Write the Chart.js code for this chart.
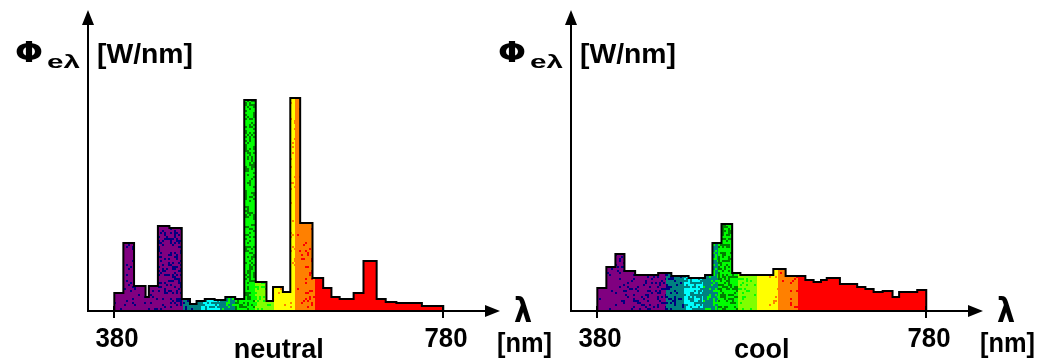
<!DOCTYPE html>
<html><head><meta charset="utf-8">
<script src="https://cdn.jsdelivr.net/npm/chart.js@4.4.1/dist/chart.umd.min.js"></script>
<style>
html,body{margin:0;padding:0;background:#fff;width:1043px;height:364px;overflow:hidden;position:relative}
canvas{position:absolute;top:0}
</style></head><body>
<canvas id="c1" width="560" height="364" style="left:0px"></canvas>
<canvas id="c2" width="563" height="364" style="left:480px"></canvas>
<script>
// ---- data ----
const tickLabels = [380, 780];
const chartTitles = ['neutral', 'cool'];
const yTitleMain = 'Φ';
const yTitleSub = 'eλ';
const yUnit = '[W/nm]';
const xTitle = 'λ';
const xUnit = '[nm]';

// wavelength bin edges (nm) and spectral power per bin (relative units)
const neutralEdges = [380, 391, 404, 418, 422, 433, 447, 462, 472, 480, 490, 502, 515, 527, 538, 552, 565, 573, 585, 594, 606, 621, 634, 644, 654, 671, 683, 699, 710, 723, 754, 780];
const neutralValues = [18, 68, 25, 14, 25, 85, 83, 12, 7, 10, 12, 11, 14, 12, 211, 29, 10, 24, 19, 213, 88, 33, 23, 14, 12, 18, 50, 12, 9, 8, 5];

const coolEdges = [380, 391, 402, 413, 426, 454, 470, 491, 511, 520, 531, 544, 554, 594, 609, 633, 643, 652, 659, 675, 696, 706, 716, 727, 739, 747, 769, 780];
const coolValues = [23, 44, 57, 40, 36, 38, 35, 33, 36, 68, 87, 38, 36, 42, 35, 31, 29, 31, 33, 27, 24, 22, 19, 20, 14, 19, 21];

// spectral colour bands (nm)
const bandStarts = [380, 463, 485, 508, 527, 551, 574, 600, 624];
const bandEnd = 780;

// ---- styles ----
const bandStyles = [
  {base:'#800080', dot:'#000080', d0:0.03, d1:0.30},
  {base:'#008080', dot:'#000080', d0:0.25, d1:0.08},
  {base:'#00ffff', dot:'#008080', d0:0.40, d1:0.50},
  {base:'#008080', dot:'#00ff00', d0:0.05, d1:0.35},
  {base:'#00ff00', dot:'#008000', d0:0.40, d1:0.30},
  {base:'#80ff00', dot:'#00ff00', d0:0.25, d1:0.0},
  {base:'#ffff00', dot:'#ff8000', d0:0.0, d1:0.10},
  {base:'#ff8000', dot:'#ff0000', d0:0.0, d1:0.15},
  {base:'#ff0000', dot:null, d0:0, d1:0}
];
const FONT = '"Liberation Sans", Arial, sans-serif';

function hash(i, j){
  let h = (Math.imul(i, 374761393) + Math.imul(j, 668265263)) | 0;
  h = Math.imul(h ^ (h >>> 13), 1274126177);
  h ^= h >>> 16;
  return (h >>> 0) / 4294967296;
}

function makeFill(chart){
  if (chart.$spectrum) return chart.$spectrum;
  const area = chart.chartArea, xs = chart.scales.x;
  const off = document.createElement('canvas');
  off.width = chart.width; off.height = chart.height;
  const g = off.getContext('2d');
  bandStarts.forEach((s, k) => {
    const e = k + 1 < bandStarts.length ? bandStarts[k + 1] : bandEnd;
    const x0 = Math.round(xs.getPixelForValue(s)), x1 = Math.round(xs.getPixelForValue(e));
    const st = bandStyles[k];
    g.fillStyle = st.base;
    g.fillRect(x0, area.top, x1 - x0, area.bottom - area.top);
    if (st.dot) {
      g.fillStyle = st.dot;
      const cell = 2;
      for (let x = x0; x < x1; x += cell) {
        const t = (x - x0) / Math.max(1, x1 - x0);
        const d = st.d0 + (st.d1 - st.d0) * t;
        for (let y = Math.floor(area.top); y < area.bottom; y += cell) {
          if (hash(x, y) < d) g.fillRect(x, y, cell, cell);
        }
      }
    }
  });
  chart.$spectrum = g.createPattern(off, 'no-repeat');
  return chart.$spectrum;
}

function fitText(ctx, text, x, y, size, align, width, family){
  ctx.font = 'bold ' + size + 'px ' + (family || FONT);
  const w = ctx.measureText(text).width;
  const s = width ? width / w : 1;
  const tw = w * s;
  let left = x;
  if (align === 'center') left = x - tw / 2;
  else if (align === 'right') left = x - tw;
  ctx.save();
  ctx.translate(left, y);
  ctx.scale(s, 1);
  ctx.textAlign = 'left';
  ctx.textBaseline = 'alphabetic';
  ctx.fillText(text, 0, 0);
  ctx.restore();
}

const arrowAxes = {
  id: 'arrowAxes',
  afterDatasetsDraw(chart, args, opts){
    const {ctx, chartArea: a, scales: {x, y}} = chart;
    const ox = a.left, oy = y.getPixelForValue(0), tip = a.right, top = a.top;
    ctx.save();
    ctx.strokeStyle = '#000'; ctx.fillStyle = '#000'; ctx.lineWidth = 2;
    // y axis
    ctx.beginPath(); ctx.moveTo(ox, oy + 1); ctx.lineTo(ox, top + 10); ctx.stroke();
    ctx.beginPath(); ctx.moveTo(ox, top - 2); ctx.lineTo(ox - 6, top + 13); ctx.lineTo(ox + 6, top + 13); ctx.closePath(); ctx.fill();
    // x axis
    ctx.beginPath(); ctx.moveTo(ox - 1, oy); ctx.lineTo(tip - 10, oy); ctx.stroke();
    ctx.beginPath(); ctx.moveTo(tip, oy); ctx.lineTo(tip - 15, oy - 6); ctx.lineTo(tip - 15, oy + 6); ctx.closePath(); ctx.fill();
    // ticks + labels
    tickLabels.forEach(v => {
      const px = Math.round(x.getPixelForValue(v));
      ctx.beginPath(); ctx.moveTo(px, oy - 5); ctx.lineTo(px, oy + 7); ctx.stroke();
      fitText(ctx, String(v), px + 3, oy + 36, 28, 'center', 43);
    });
    // axis titles
    fitText(ctx, yTitleMain, ox - 73, oy - 249, 28, 'left', 28, '"DejaVu Sans", sans-serif');
    fitText(ctx, yTitleSub, ox - 41, oy - 243, 19, 'left', 33);
    fitText(ctx, yUnit, ox + 9, oy - 248, 28, 'left', 96);
    fitText(ctx, xTitle, tip + 23, oy + 11, 33, 'center', 18, '"DejaVu Sans", sans-serif');
    fitText(ctx, xUnit, tip - 3, oy + 41, 27, 'left', 55);
    // chart caption
    fitText(ctx, opts.title, x.getPixelForValue(580), oy + 47, 27, 'center');
    ctx.restore();
  }
};

function makeChart(id, edges, values, title, padLeft){
  const pts = [{x: edges[0], y: 0}];
  values.forEach((v, i) => pts.push({x: edges[i], y: v}));
  pts.push({x: edges[edges.length - 1], y: values[values.length - 1]});
  pts.push({x: edges[edges.length - 1], y: 0});
  const canvas = document.getElementById(id);
  const w = canvas.width;
  return new Chart(canvas, {
    type: 'line',
    data: {datasets: [{
      data: pts, stepped: true, fill: 'origin',
      borderColor: '#000', borderWidth: 2, pointRadius: 0,
      borderJoinStyle: 'miter', borderCapStyle: 'butt',
      backgroundColor: c => c.chart.chartArea ? makeFill(c.chart) : 'transparent'
    }]},
    options: {
      responsive: false, animation: false, events: [],
      layout: {padding: {left: padLeft, right: w - padLeft - 412, top: 12, bottom: 53}},
      scales: {
        x: {type: 'linear', min: 348, max: 849, display: false},
        y: {min: 0, max: 299, display: false}
      },
      plugins: {legend: {display: false}, tooltip: {enabled: false}, arrowAxes: {title}}
    },
    plugins: [arrowAxes]
  });
}

makeChart('c1', neutralEdges, neutralValues, chartTitles[0], 88);
makeChart('c2', coolEdges, coolValues, chartTitles[1], 91);
</script>
</body></html>
